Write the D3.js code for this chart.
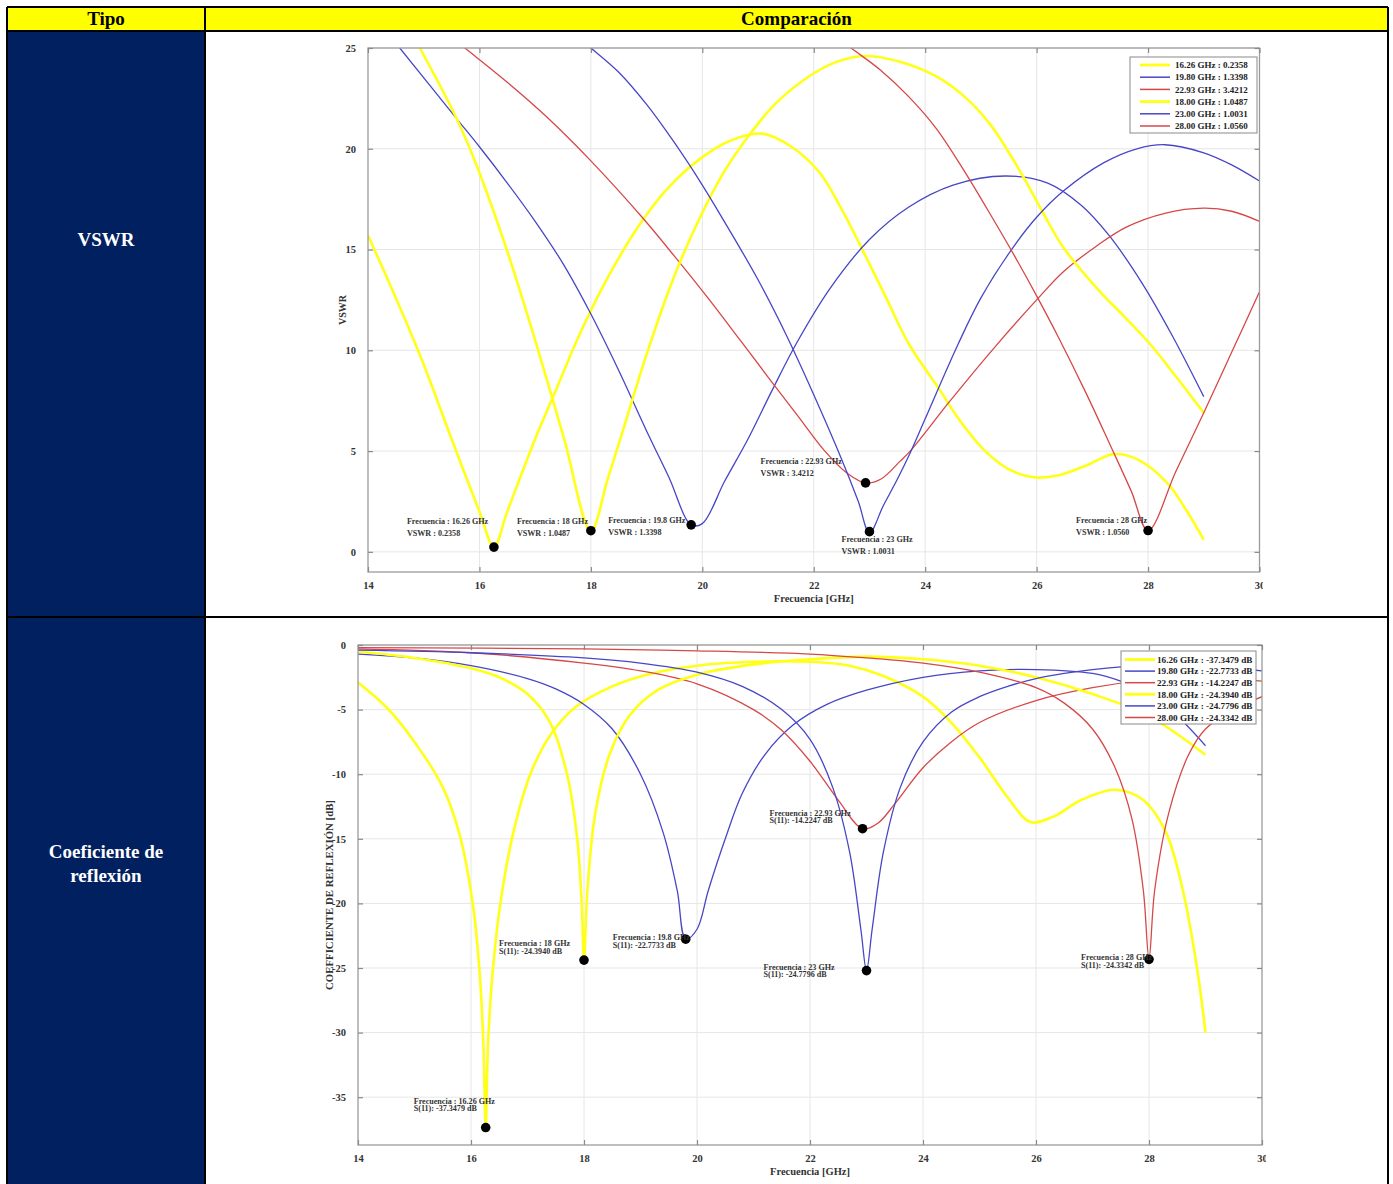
<!DOCTYPE html>
<html><head><meta charset="utf-8">
<script src="https://cdn.jsdelivr.net/npm/d3@7"></script>
<style>body{margin:0;background:#fff}svg{display:block}</style>
</head><body><svg id="c" width="1393" height="1184"></svg>
<script>
// ---------- DATA ----------
const headers = ["Tipo", "Comparación"];
const rowLabels = [["VSWR"], ["Coeficiente de", "reflexión"]];
const xTicks = [14, 16, 18, 20, 22, 24, 26, 28, 30];
const vswrTicks = [0, 5, 10, 15, 20, 25];
const s11Ticks = [0, -5, -10, -15, -20, -25, -30, -35];

const seriesNames = ["16.26 GHz", "19.80 GHz", "22.93 GHz", "18.00 GHz", "23.00 GHz", "28.00 GHz"];
const seriesColors = ["yellow", "blue", "red", "yellow", "blue", "red"];
const vswrLegendVals = ["0.2358", "1.3398", "3.4212", "1.0487", "1.0031", "1.0560"];
const s11LegendVals = ["-37.3479", "-22.7733", "-14.2247", "-24.3940", "-24.7796", "-24.3342"];

// VSWR curves [GHz, VSWR]
const vswr1626 = [[14,15.7],[14.5,12.6],[15,9.3],[15.5,5.6],[16,2.0],[16.26,0.24],[16.5,2.0],[17,5.6],[17.4,8.2],[17.75,10.5],[18.3,13.6],[18.94,16.5],[19.4,18.1],[19.96,19.5],[20.5,20.4],[21.07,20.75],[21.6,20.1],[22.11,18.8],[22.5,17.0],[22.89,14.9],[23.3,12.6],[23.71,10.3],[24.27,8.0],[24.6,6.6],[25.04,5.1],[25.5,4.1],[25.94,3.7],[26.4,3.8],[26.9,4.3],[27.38,4.85],[27.8,4.6],[28.35,3.4],[28.7,2.0],[29,0.6]];
const vswr1980 = [[14.2,26.3],[14.57,25],[15.59,21.5],[16,20.1],[16.5,18.3],[17,16.4],[17.5,14.3],[18,11.8],[18.5,9.0],[19,6.0],[19.4,3.7],[19.8,1.34],[20,1.4],[20.4,3.5],[20.82,5.6],[21.25,8.0],[21.7,10.4],[22.3,13.1],[23,15.5],[23.7,17.1],[24.5,18.2],[25.44,18.65],[26.2,18.3],[26.8,17.2],[27.3,15.7],[27.9,13.3],[28.44,10.7],[29,7.7]];
const vswr2293 = [[15.2,26.2],[15.74,25],[16.5,23.3],[17.2,21.6],[18,19.4],[18.92,16.6],[19.55,14.5],[20.1,12.6],[20.68,10.5],[21.2,8.6],[21.7,6.8],[22.2,5.0],[22.6,3.9],[22.93,3.42],[23.2,3.6],[23.55,4.5],[23.73,5.0],[24.45,7.5],[25.2,10.0],[26,12.5],[26.48,13.9],[27.09,15.2],[27.6,16.1],[28.3,16.8],[29,17.05],[29.5,16.9],[30,16.4]];
const vswr1800 = [[14.6,26.6],[14.93,25],[15.59,21.5],[15.96,19.1],[16.49,15],[17,10.5],[17.52,5.6],[18,1.05],[18.3,3.6],[18.54,5.7],[19,9.8],[19.5,13.7],[19.96,16.6],[20.4,18.9],[20.74,20.3],[21.3,22.2],[21.92,23.6],[22.4,24.3],[22.9,24.6],[23.5,24.35],[24.19,23.6],[24.7,22.6],[25.17,21.2],[25.7,18.9],[26.1,16.9],[26.48,15.1],[27.14,12.9],[27.6,11.6],[28.04,10.3],[28.5,8.7],[29,6.9]];
const vswr2300 = [[17.5,26.1],[18,25],[18.5,23.8],[19,22.2],[19.5,20.3],[20,18.2],[20.5,15.9],[21,13.5],[21.5,10.8],[22,7.8],[22.5,4.6],[22.8,2.5],[23,0.95],[23.25,2.3],[23.5,3.6],[23.73,4.9],[24,6.6],[24.59,10.3],[25,12.6],[25.55,15.0],[26,16.6],[26.48,17.9],[27.2,19.3],[27.8,20.0],[28.3,20.2],[29,19.8],[29.5,19.2],[30,18.4]];
const vswr2800 = [[22.3,25.8],[22.67,25],[23.2,23.9],[23.7,22.6],[24.2,21.0],[24.7,18.9],[25.2,16.6],[25.6,14.7],[26,12.7],[26.4,10.6],[26.9,7.8],[27.32,5.3],[27.7,3.0],[28,1.05],[28.5,4.0],[29,6.9],[29.5,9.9],[30,12.9]];

// S11 curves [GHz, dB]
const s11_1626 = [[14,-2.9],[14.5,-4.8],[15,-7.5],[15.5,-11],[15.8,-14.7],[16.04,-20.3],[16.16,-25.8],[16.22,-31],[16.26,-37.35],[16.3,-31],[16.38,-25.5],[16.52,-20],[16.75,-14.5],[17.05,-10],[17.4,-7],[17.85,-4.8],[18.5,-3.2],[19.2,-2.2],[20,-1.6],[21,-1.3],[22,-1.3],[22.7,-1.6],[23.3,-2.4],[24,-4.0],[24.5,-6.0],[25,-8.7],[25.5,-11.8],[25.9,-13.7],[26.3,-13.3],[26.8,-12.0],[27.4,-11.2],[27.9,-12.0],[28.3,-14.5],[28.6,-19],[28.85,-25],[29,-30]];
const s11_1980 = [[14,-0.7],[15,-1.0],[16,-1.6],[17,-2.6],[17.5,-3.4],[18,-4.6],[18.5,-6.5],[19,-10],[19.4,-14.5],[19.65,-19],[19.8,-22.77],[20,-22],[20.2,-19],[20.5,-15],[20.8,-11.5],[21.2,-8.5],[21.7,-6.2],[22.3,-4.6],[23,-3.5],[24,-2.5],[25,-2.0],[26,-1.9],[27,-2.2],[27.5,-2.8],[28,-3.8],[28.5,-5.5],[29,-7.8]];
const s11_2293 = [[14,-0.3],[16,-0.6],[18,-1.4],[19,-2.0],[20,-3],[21,-5],[21.5,-6.6],[22,-9],[22.5,-12],[22.93,-14.22],[23.2,-13.8],[23.5,-12.3],[24,-9.5],[24.5,-7.5],[25,-6.0],[26,-4.3],[27,-3.3],[28,-2.7],[29,-2.5],[30,-2.8]];
const s11_1800 = [[14,-0.5],[15,-1.0],[16,-1.8],[16.5,-2.5],[17,-3.8],[17.4,-6],[17.7,-10],[17.88,-15],[17.96,-20],[18,-24.4],[18.06,-19],[18.2,-13],[18.45,-8.5],[18.8,-5.5],[19.3,-3.5],[20,-2.3],[21,-1.5],[22,-1.1],[23,-0.9],[24,-1.1],[25,-1.6],[26,-2.5],[27,-3.8],[28,-5.5],[29,-8.5]];
const s11_2300 = [[14,-0.4],[16,-0.6],[18,-1.0],[19,-1.4],[20,-2.1],[20.8,-3.2],[21.5,-5],[22,-7.3],[22.4,-11],[22.7,-16],[22.9,-22],[23,-25.2],[23.1,-22],[23.3,-16],[23.6,-11],[24,-7.5],[24.5,-5.2],[25,-4],[25.5,-3.2],[26,-2.6],[26.5,-2.2],[27,-1.9],[27.5,-1.7],[28,-1.6],[28.5,-1.6],[29,-1.7],[29.5,-1.8],[30,-2.0]];
const s11_2800 = [[14,-0.2],[18,-0.3],[20,-0.45],[22,-0.7],[23,-1.0],[24,-1.4],[25,-2.1],[26,-3.3],[26.5,-4.5],[27,-6.5],[27.4,-9.5],[27.7,-13.5],[27.9,-19],[28,-24.3],[28.1,-19],[28.35,-13],[28.7,-8.5],[29,-6.5],[29.5,-5],[30,-4]];

// data tips [GHz, plotted value, line1, line2]
const vswrTips = [[16.26,0.2358,"Frecuencia : 16.26 GHz","VSWR : 0.2358"],[18,1.0487,"Frecuencia : 18 GHz","VSWR : 1.0487"],[19.8,1.3398,"Frecuencia : 19.8 GHz","VSWR : 1.3398"],[22.93,3.4212,"Frecuencia : 22.93 GHz","VSWR : 3.4212"],[23,1.0031,"Frecuencia : 23 GHz","VSWR : 1.0031"],[28,1.056,"Frecuencia : 28 GHz","VSWR : 1.0560"]];
const s11Tips = [[16.26,-37.35,"Frecuencia : 16.26 GHz","S(11): -37.3479 dB"],[18,-24.39,"Frecuencia : 18 GHz","S(11): -24.3940 dB"],[19.8,-22.77,"Frecuencia : 19.8 GHz","S(11): -22.7733 dB"],[22.93,-14.22,"Frecuencia : 22.93 GHz","S(11): -14.2247 dB"],[23,-25.2,"Frecuencia : 23 GHz","S(11): -24.7796 dB"],[28,-24.33,"Frecuencia : 28 GHz","S(11): -24.3342 dB"]];

// ---------- DRAW ----------
const svg = d3.select("#c");
const FONT = "'Liberation Serif','Times New Roman',serif";
const col = {yellow: "#ffff17", blue: "#4747c6", red: "#d64848"};
const widthOf = c => c === "yellow" ? 2.6 : 1.3;
const fmt = d => String(d);

// table
const T = {x0: 7, x1: 1388, xc: 205, y0: 7, yh: 31, yr: 617, y2: 1190};
svg.append("rect").attr("x", T.x0).attr("y", T.y0).attr("width", T.x1 - T.x0).attr("height", T.yh - T.y0).attr("fill", "#ffff00");
svg.append("rect").attr("x", T.x0).attr("y", T.yh).attr("width", T.xc - T.x0).attr("height", T.y2 - T.yh).attr("fill", "#002060");
svg.append("text").attr("x", (T.x0 + T.xc) / 2).attr("y", 25).attr("text-anchor", "middle")
  .attr("font-family", FONT).attr("font-weight", "bold").attr("font-size", 19).text(headers[0]);
svg.append("text").attr("x", (T.xc + T.x1) / 2).attr("y", 25).attr("text-anchor", "middle")
  .attr("font-family", FONT).attr("font-weight", "bold").attr("font-size", 19).text(headers[1]);
const rowMid = [246, 858];
rowLabels.forEach((lines, i) => {
  lines.forEach((t, j) => {
    svg.append("text").attr("x", (T.x0 + T.xc) / 2).attr("y", rowMid[i] + j * 24)
      .attr("text-anchor", "middle").attr("fill", "#fff").attr("font-family", FONT)
      .attr("font-weight", "bold").attr("font-size", 19).text(t);
  });
});

function chart(o) {
  const g = svg.append("g");
  const clipId = "clip" + o.id, cellId = "cell" + o.id;
  svg.append("clipPath").attr("id", clipId).append("rect")
    .attr("x", o.x0).attr("y", o.y0).attr("width", o.x1 - o.x0).attr("height", o.y1 - o.y0);
  svg.append("clipPath").attr("id", cellId).append("rect")
    .attr("x", T.xc + 1).attr("y", o.cellTop).attr("width", o.cellRight - T.xc - 1).attr("height", o.cellBot - o.cellTop);
  const cg = g.attr("clip-path", `url(#${cellId})`);
  const x = d3.scaleLinear().domain([14, 30]).range([o.x0, o.x1]);
  const y = d3.scaleLinear().domain(o.ydom).range([o.y1, o.y0]);
  // grid
  cg.append("g").selectAll("line").data(xTicks.slice(1, -1)).join("line")
    .attr("x1", d => x(d)).attr("x2", d => x(d)).attr("y1", o.y0).attr("y2", o.y1)
    .attr("stroke", "#e6e6e6").attr("stroke-width", 1);
  cg.append("g").selectAll("line").data(o.yticks).join("line")
    .attr("x1", o.x0).attr("x2", o.x1).attr("y1", d => y(d)).attr("y2", d => y(d))
    .attr("stroke", "#e6e6e6").attr("stroke-width", 1);
  // lines
  const line = d3.line().x(d => x(d[0])).y(d => y(d[1])).curve(d3.curveCatmullRom.alpha(0.5));
  const lg = cg.append("g").attr("clip-path", `url(#${clipId})`);
  o.series.forEach((s, i) => {
    const c = seriesColors[i];
    lg.append("path").datum(s).attr("d", line).attr("fill", "none")
      .attr("stroke", col[c]).attr("stroke-width", widthOf(c)).attr("stroke-linejoin", "round");
  });
  // box
  cg.append("rect").attr("x", o.x0).attr("y", o.y0).attr("width", o.x1 - o.x0).attr("height", o.y1 - o.y0)
    .attr("fill", "none").attr("stroke", "#9b9b9b").attr("stroke-width", 1.3);
  // axes
  cg.append("g").attr("transform", `translate(0,${o.y1})`)
    .call(d3.axisBottom(x).tickValues(xTicks).tickSize(-5).tickPadding(10).tickFormat(fmt));
  cg.append("g").attr("transform", `translate(${o.x0},0)`)
    .call(d3.axisLeft(y).tickValues(o.yticks).tickSize(-5).tickPadding(12).tickFormat(fmt));
  cg.append("g").attr("transform", `translate(0,${o.y0})`)
    .call(d3.axisTop(x).tickValues(xTicks).tickSize(-5).tickFormat(""));
  cg.append("g").attr("transform", `translate(${o.x1},0)`)
    .call(d3.axisRight(y).tickValues(o.yticks).tickSize(-5).tickFormat(""));
  cg.selectAll(".domain").remove();
  cg.selectAll(".tick line").attr("stroke", "#8a8a8a").attr("stroke-width", 1.2);
  cg.selectAll(".tick text").attr("font-family", FONT).attr("font-weight", "bold")
    .attr("font-size", 10.5).attr("fill", "#333");
  // axis titles
  cg.append("text").attr("x", (o.x0 + o.x1) / 2).attr("y", o.y1 + 30).attr("text-anchor", "middle")
    .attr("font-family", FONT).attr("font-weight", "bold").attr("font-size", 10.5).attr("fill", "#333")
    .text("Frecuencia [GHz]");
  cg.append("text").attr("transform", `translate(${o.ylabX},${(o.y0 + o.y1) / 2}) rotate(-90)`)
    .attr("text-anchor", "middle").attr("font-family", FONT).attr("font-weight", "bold")
    .attr("font-size", o.ylabSize).attr("fill", "#333").text(o.ylab);
  // data tips
  o.tips.forEach((t, i) => {
    cg.append("circle").attr("cx", x(t[0])).attr("cy", y(t[1])).attr("r", 4.8).attr("fill", "#000");
    const off = o.tipOff[i];
    const tg = cg.append("g").attr("font-family", FONT).attr("font-weight", "bold")
      .attr("font-size", o.tipSize).attr("fill", "#333");
    tg.append("text").attr("x", x(t[0]) + off[0]).attr("y", y(t[1]) + off[1]).text(t[2]);
    tg.append("text").attr("x", x(t[0]) + off[0]).attr("y", y(t[1]) + off[1] + o.tipGap).text(t[3]);
  });
  // legend
  const L = o.leg;
  const lgd = cg.append("g");
  lgd.append("rect").attr("x", L.x).attr("y", L.y).attr("width", L.w).attr("height", L.h)
    .attr("fill", "#fff").attr("stroke", "#8a8a8a").attr("stroke-width", 1);
  seriesNames.forEach((n, i) => {
    const yy = L.y + L.top + i * L.dy;
    const c = seriesColors[i];
    lgd.append("line").attr("x1", L.x + L.l0).attr("x2", L.x + L.l1).attr("y1", yy).attr("y2", yy)
      .attr("stroke", col[c]).attr("stroke-width", c === "yellow" ? 2.8 : 1.5);
    lgd.append("text").attr("x", L.x + L.tx).attr("y", yy + 3.2).attr("font-family", FONT)
      .attr("font-weight", "bold").attr("font-size", L.fs).attr("fill", "#222")
      .text(n + " : " + o.legVals[i] + o.legUnit);
  });
}

chart({
  id: 1, x0: 368, x1: 1259.5, y0: 48, y1: 572, ydom: [-1, 25], yticks: vswrTicks,
  cellTop: T.yh + 1, cellBot: T.yr, cellRight: 1263,
  series: [vswr1626, vswr1980, vswr2293, vswr1800, vswr2300, vswr2800],
  ylab: "VSWR", ylabX: 346, ylabSize: 10,
  tips: vswrTips, tipSize: 8.1, tipGap: 12,
  tipOff: [[-87, -23], [-74, -7], [-83, -2], [-105, -19], [-28, 10], [-72, -8]],
  leg: {x: 1130, y: 57, w: 127, h: 76, top: 8, dy: 12.2, l0: 10, l1: 40, tx: 45, fs: 9.0},
  legVals: vswrLegendVals, legUnit: ""
});

chart({
  id: 2, x0: 358, x1: 1262, y0: 645, y1: 1145, ydom: [-38.7, 0], yticks: s11Ticks,
  cellTop: T.yr + 1, cellBot: 1184, cellRight: 1266,
  series: [s11_1626, s11_1980, s11_2293, s11_1800, s11_2300, s11_2800],
  ylab: "COEFFICIENTE DE REFLEXIÓN [dB]", ylabX: 333, ylabSize: 10.8,
  tips: s11Tips, tipSize: 8.1, tipGap: 7.5,
  tipOff: [[-72, -24], [-85, -14], [-73, 1], [-93, -13], [-103, -1], [-68, 1]],
  leg: {x: 1121, y: 651, w: 135, h: 73, top: 8.5, dy: 11.6, l0: 4, l1: 34, tx: 36, fs: 9.2},
  legVals: s11LegendVals, legUnit: " dB"
});

// table grid lines
const bl = svg.append("g").attr("stroke", "#000").attr("stroke-width", 2).attr("fill", "none");
bl.append("line").attr("x1", T.x0).attr("x2", T.x1).attr("y1", T.y0).attr("y2", T.y0);
bl.append("line").attr("x1", T.x0).attr("x2", T.x1).attr("y1", T.yh).attr("y2", T.yh);
bl.append("line").attr("x1", T.x0).attr("x2", T.x1).attr("y1", T.yr).attr("y2", T.yr);
bl.append("line").attr("x1", T.x0).attr("x2", T.x0).attr("y1", T.y0).attr("y2", 1190);
bl.append("line").attr("x1", T.x1).attr("x2", T.x1).attr("y1", T.y0).attr("y2", 1190);
bl.append("line").attr("x1", T.xc).attr("x2", T.xc).attr("y1", T.y0).attr("y2", 1190);
</script></body></html>
